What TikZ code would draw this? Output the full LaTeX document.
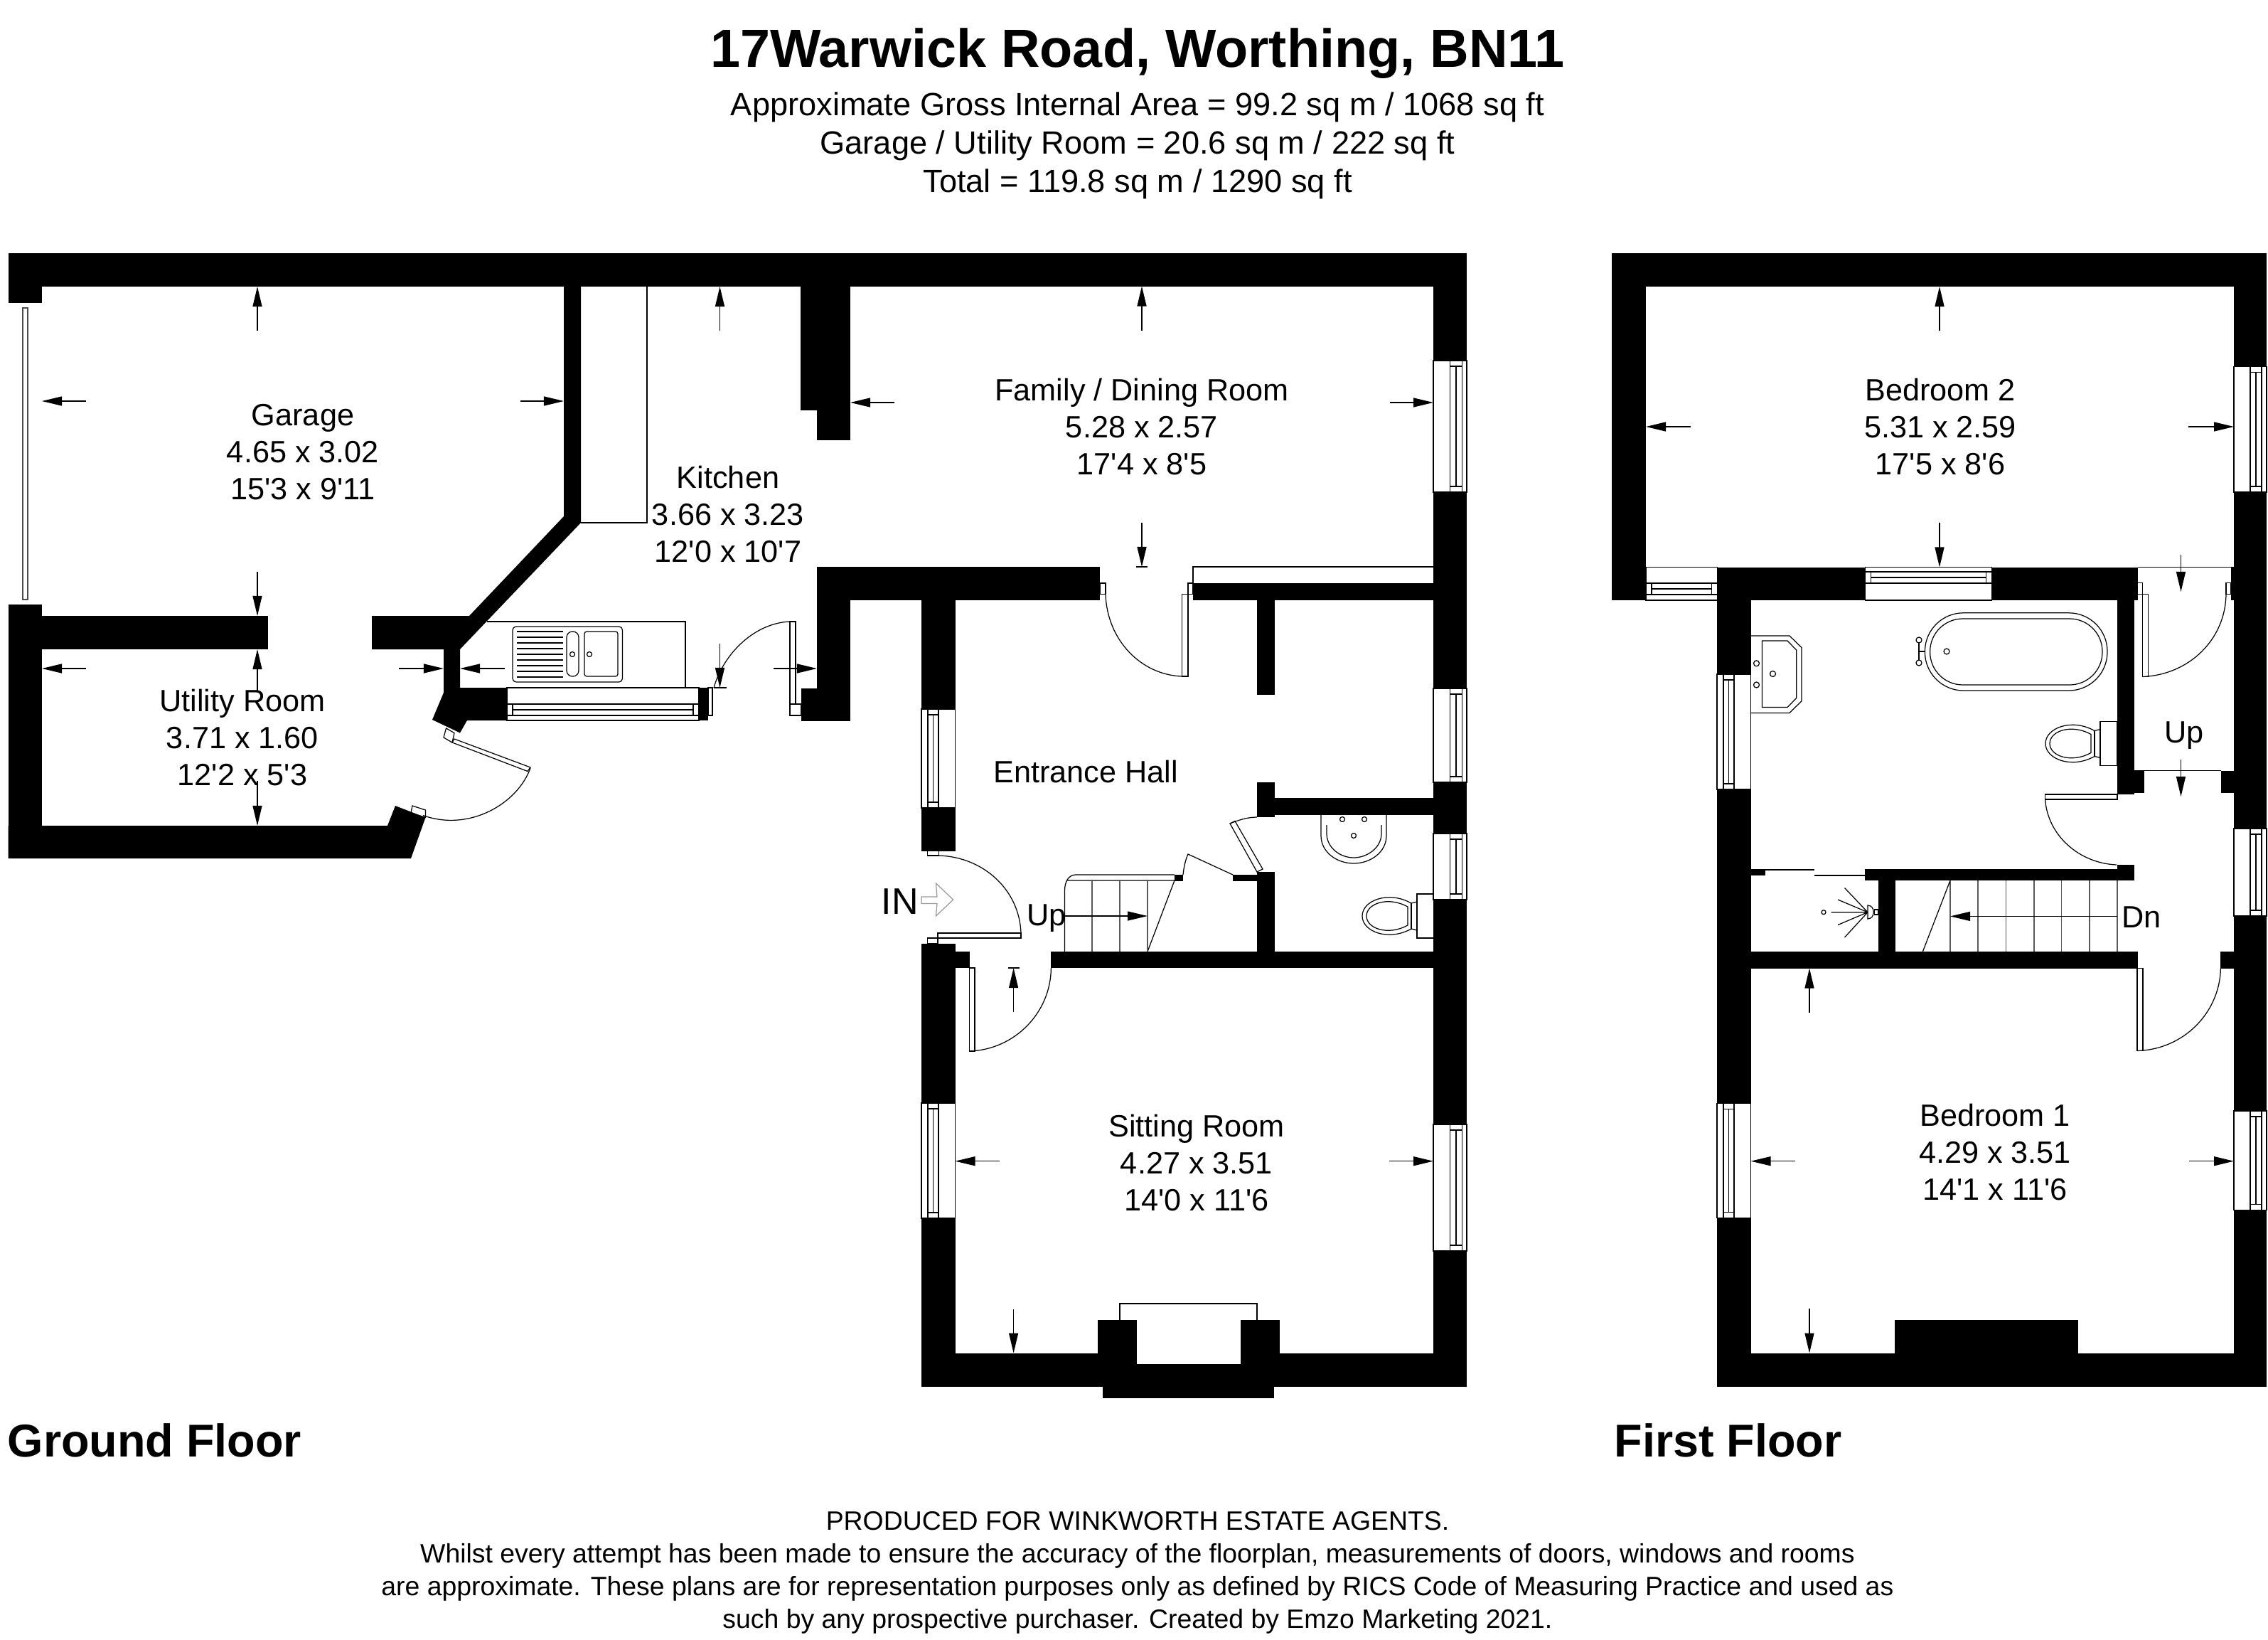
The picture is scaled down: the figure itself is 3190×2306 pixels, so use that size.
\documentclass[tikz,border=0pt]{standalone}
\usepackage{fontspec}
\setmainfont{Liberation Sans}
\newfontfamily\plainfont{Liberation Sans}
\usetikzlibrary{arrows.meta}
\newcommand{\vwin}[6]{%
  \path[winbox] (#1,#3) rectangle (#2,#4);
  \draw[fine] (#5,#3) rectangle (#6,#3+8) (#5,#4-8) rectangle (#6,#4);
  \draw[fine] (#5,#3+8) -- (#5,#4-8) ({(#5+#6)/2},#3+8) -- ({(#5+#6)/2},#4-8) (#6,#3+8) -- (#6,#4-8);
}
\newcommand{\hwin}[6]{%
  \path[winbox] (#1,#3) rectangle (#2,#4);
  \draw[fine] (#1,#5) rectangle (#1+8,#6) (#2-8,#5) rectangle (#2,#6);
  \draw[fine] (#1+8,#5) -- (#2-8,#5) (#1+8,{(#5+#6)/2}) -- (#2-8,{(#5+#6)/2}) (#1+8,#6) -- (#2-8,#6);
}
\newcommand{\wcpan}[2]{%
  \begin{scope}[shift={(#1,#2)}]
    \draw[fine] (0,-31) rectangle (23.5,31);
    \draw[fine] (0,-20) -- (-8,-18) .. controls (-40,-36) and (-77,-22) .. (-77,0) .. controls (-77,22) and (-40,36) .. (-8,18) -- (0,20);
    \draw[fine] (-8,-18) -- (-8,18);
    \draw[fine] (-13,-13) .. controls (-40,-28) and (-71,-18) .. (-71,0) .. controls (-71,18) and (-40,28) .. (-13,13) -- cycle;
  \end{scope}
}
\begin{document}
\begin{tikzpicture}[x=0.01cm,y=-0.01cm,
  wall/.style={fill=black,draw=none},
  fine/.style={draw=black,line width=0.35pt},
  winbox/.style={draw=black,fill=white,line width=0.35pt},
  greyline/.style={draw=black!65,line width=0.4pt},
  dim/.style={draw=black,line width=0.35pt,-{Stealth[length=0.28cm,width=0.13cm,inset=0pt]}},
  room/.style={font=\plainfont\fontsize{12.3}{14.8}\selectfont,align=center,inner sep=0pt},
  head/.style={font=\plainfont\fontsize{12.85}{15.3}\selectfont,align=center,inner sep=0pt},
  foot/.style={font=\plainfont\fontsize{10.63}{13.1}\selectfont,align=center,inner sep=0pt},
  floorname/.style={font=\plainfont\fontsize{18.4}{20}\selectfont\bfseries,inner sep=0pt,anchor=west}]
\useasboundingbox (0,0) rectangle (3190,2306);
\fill[white] (0,0) rectangle (3190,2306);

% ---------- GROUND FLOOR: walls ----------
\fill[wall] (11.5,356) rectangle (2063,403);
\fill[wall] (11.5,403) rectangle (59,426);
\fill[wall] (11.5,850) rectangle (59,1207);
\fill[wall] (11.5,866) rectangle (376.5,913);
\fill[wall] (793,403) -- (817,403) -- (817,735) -- (647,913) -- (647,967) -- (713,967) -- (713,1013) -- (657,1013) -- (647,1030.5) -- (608,1012) -- (624,974) -- (624,913) -- (523,913) -- (523,866) -- (660,866) -- (793,726) -- cycle;
\fill[wall] (11.5,1161) -- (545,1161) -- (556,1133) -- (598.5,1149.5) -- (578,1207) -- (11.5,1207) -- cycle;
\fill[wall] (983,967) rectangle (996,1013);
% chimney breast and family room wall
\fill[wall] (1126,403) rectangle (1196,577);
\fill[wall] (1149,577) rectangle (1196,619);
\fill[wall] (1149,797) rectangle (1547,844);
\fill[wall] (1149,844) rectangle (1196,968);
\fill[wall] (1127,968) rectangle (1196,1013.5);
\fill[wall] (1678,820) rectangle (2063,844);
% right wall
\fill[wall] (2016,403) rectangle (2063,1949.6);
% hall
\fill[wall] (1296,844) rectangle (1343.5,1196.5);
\fill[wall] (1768,844) rectangle (1792.5,976.5);
\fill[wall] (1768,1100) rectangle (1792.5,1149);
\fill[wall] (1792,1122) rectangle (2063,1145.5);
\fill[wall] (1768,1226) rectangle (1792.5,1338);
\fill[wall] (1734,1230) rectangle (1768,1239);
\fill[wall] (1652,1230) rectangle (1664,1239);
\fill[wall] (1296,1327) rectangle (1343.5,1338);
\fill[wall] (1296,1338) rectangle (1363.5,1361);
\fill[wall] (1296,1361) rectangle (1343.5,1949.6);
\fill[wall] (1478.4,1338) rectangle (2063,1361);
\fill[wall] (1296,1902.5) rectangle (2063,1949.6);
\fill[wall] (1551,1949.6) rectangle (1792,1965.7);
\fill[wall] (1544,1856) rectangle (1800,1902.5);
\fill[white] (1599,1856) rectangle (1745,1918);
\draw[fine] (1575,1856) -- (1575,1833) -- (1768,1833) -- (1768,1856);

% ---------- GROUND FLOOR: windows ----------
\path[winbox,draw=black!70] (32,433) rectangle (39,843);
\vwin{2016}{2063}{507}{692}{2039.5}{2056.5}
\vwin{2016}{2063}{968}{1100}{2039.5}{2056.5}
\vwin{2016}{2063}{1172}{1265}{2039.5}{2056.5}
\vwin{2016}{2063}{1581}{1759}{2039.5}{2056.5}
\vwin{1296}{1343.5}{997}{1136}{1305}{1320}
\vwin{1296}{1343.5}{1551}{1713}{1305}{1320}
\hwin{713}{983}{967}{1013}{990}{1006}

% ---------- GROUND FLOOR: fittings ----------
\draw[fine] (817,735) -- (910,735) -- (910,403);
\draw[fine] (1678,820) -- (1678,797) -- (2016,797);
% sink
\draw[fine] (685,874) -- (964,874) -- (964,967);
\draw[fine,rounded corners=1.4pt] (721,881) rectangle (875.5,959);
\foreach \yy in {888,896,904,912,920,928,936,944,952}{\draw[fine] (727,\yy) -- (792,\yy);}
\draw[fine,rounded corners=2.3pt] (797,888) rectangle (814,951);
\draw[fine,rounded corners=0.9pt] (822,888) rectangle (869,951);
\draw[fine] (805,920) circle (3.5) (829,920) circle (3.5);
% doors
\draw[fine] (996,967) rectangle (1002,1006);
\draw[fine] (1004,967) .. controls (1018,918) and (1062,876) .. (1111,874);
\draw[fine] (1111,874) rectangle (1119,990);
\draw[fine] (1111,990) rectangle (1127,1006);
\draw[fine] (1547,820) rectangle (1555,835.5);
\draw[fine] (1671,820) rectangle (1678,835.5);
\draw[fine] (1662.5,835.5) rectangle (1671,951);
\draw[fine] (1555,835.5) .. controls (1557,900) and (1605,949) .. (1662.5,951);
\draw[fine] (1304.5,1196.5) rectangle (1320.5,1203);
\draw[fine] (1320.5,1203) .. controls (1384,1205) and (1434,1252) .. (1436,1312);
\draw[fine] (1319,1312) rectangle (1436,1319);
\draw[fine] (1304.5,1319) rectangle (1319,1327);
\draw[fine] (1363.6,1361) rectangle (1371,1478);
\draw[fine] (1478.4,1361) .. controls (1478,1424) and (1427,1476) .. (1363.6,1478);
\draw[fine] (1768,1149) .. controls (1755,1149) and (1742,1153) .. (1730,1158);
\draw[fine] (1730,1158) -- (1737,1154.5) -- (1776,1222) -- (1768,1226) -- cycle;
\draw[fine] (1734,1230) -- (1671,1201) .. controls (1667,1210) and (1665,1220) .. (1664,1230);
\draw[fine] (627.5,1024) -- (639,1030.6) -- (636,1044) -- (624,1037) -- cycle;
\draw[fine] (639,1039) -- (746,1079) -- (742,1084.5) -- (636,1044) -- cycle;
\draw[fine] (746,1080) .. controls (728,1130) and (660,1170) .. (595,1146.5);
\draw[fine] (580,1133) -- (598.5,1139) -- (598.5,1149.5) -- (578,1143) -- cycle;
% stairs
\draw[fine] (1652,1230) -- (1513,1230) .. controls (1503,1230) and (1497.5,1240) .. (1497.5,1252) -- (1497.5,1338);
\draw[fine] (1500,1238) -- (1652,1238) -- (1614,1338);
\draw[greyline] (1536,1238) -- (1536,1338) (1575,1238) -- (1575,1338) (1614,1238) -- (1614,1338);
\draw[dim] (1497.5,1288) -- (1614,1288);
% wc
\draw[fine] (1858,1145) -- (1858,1175) .. controls (1858,1198) and (1880,1214) .. (1904,1214) .. controls (1928,1214) and (1950,1198) .. (1950,1175) -- (1950,1145);
\draw[fine] (1866,1160) -- (1866,1172) .. controls (1866,1192) and (1885,1206) .. (1904,1206) .. controls (1923,1206) and (1943,1192) .. (1943,1172) -- (1943,1160);
\draw[fine] (1888,1152) circle (3.5) (1919,1152) circle (3.5) (1904,1175) circle (3.5);
\wcpan{1993}{1288}
% entry arrow
\draw[draw=black!40,line width=0.35pt] (1296,1261) -- (1318,1261) -- (1316.5,1242) -- (1340.6,1265) -- (1316.5,1288) -- (1318,1270.5) -- (1296,1270.5) -- cycle;

% ---------- GROUND FLOOR: dimension arrows ----------
\draw[dim] (362,465) -- (362,403);
\draw[dim] (362,804) -- (362,866);
\draw[dim] (121,564) -- (59,564);
\draw[dim] (732,564) -- (793,564);
\draw[dim] (362,971) -- (362,913);
\draw[dim] (362,1098) -- (362,1161);
\draw[dim] (121,940) -- (59,940);
\draw[dim] (561,940) -- (624,940);
\draw[dim] (1012.5,465) -- (1012.5,403);
\draw[dim] (709.5,940) -- (647,940);
\draw[dim] (1088,940) -- (1149,940);
\draw[dim] (1012.5,905) -- (1012.5,967);
\draw[fine] (1004,967) -- (1022,967);
\draw[dim] (1606,465) -- (1606,402.5);
\draw[dim] (1258,566) -- (1196,566);
\draw[dim] (1954.6,566) -- (2016,566);
\draw[dim] (1606,735) -- (1606,797);
\draw[fine] (1598,797) -- (1614,797);
\draw[dim] (1425.6,1423) -- (1425.6,1361);
\draw[fine] (1418,1361) -- (1434,1361);
\draw[dim] (1405.5,1632.7) -- (1343.5,1632.7);
\draw[dim] (1954,1632.7) -- (2016,1632.7);
\draw[dim] (1425.6,1840.5) -- (1425.6,1902.5);

% ---------- FIRST FLOOR: walls ----------
\fill[wall] (2267,356) rectangle (3188,403);
\fill[wall] (2267,403) rectangle (2315,844);
\fill[wall] (3142,403) rectangle (3188,1949.5);
\fill[wall] (2415.6,797.5) rectangle (3006.5,844);
\fill[wall] (3138,797.5) rectangle (3188,844);
\fill[wall] (2415,844) rectangle (2462.5,1949.5);
\fill[wall] (2977.5,844) rectangle (3001.6,1117);
\fill[wall] (2977.5,1083.5) rectangle (3015.6,1115);
\fill[wall] (3123.7,1083.5) rectangle (3142,1115);
\fill[wall] (2623,1222) rectangle (3001.6,1238);
\fill[wall] (2977.5,1216) rectangle (3001.6,1238);
\fill[wall] (2462.5,1222) rectangle (2482.6,1231);
\fill[wall] (2641.5,1238) rectangle (2666,1338);
\fill[wall] (2415,1338) rectangle (3006.5,1361.5);
\fill[wall] (3123,1338) rectangle (3188,1361.5);
\fill[wall] (2415,1902.6) rectangle (3188,1949.5);
\fill[wall] (2664.8,1856) rectangle (2922.7,1902.6);

% ---------- FIRST FLOOR: windows ----------
\vwin{3142}{3188}{515.5}{692}{3165}{3181}
\vwin{3142}{3188}{1165}{1288}{3165}{3181}
\vwin{3142}{3188}{1562}{1701.5}{3165}{3181}
\vwin{2415}{2462.5}{948}{1110}{2424}{2439}
\vwin{2415}{2462.5}{1551.5}{1712.8}{2424}{2439}
\hwin{2315}{2415.6}{797.5}{844}{820}{836}
\hwin{2623.4}{2801.7}{797.5}{844}{804}{820}

% ---------- FIRST FLOOR: fittings ----------
\draw[fine] (3006.5,797.5) -- (3142,797.5);
\draw[fine] (3001.6,1083.5) -- (3123.7,1083.5);
\draw[fine] (3006.5,819.6) rectangle (3013.8,835.7);
\draw[fine] (3131,819.6) rectangle (3138,835.7);
\draw[fine] (3013.8,835.7) rectangle (3021.6,951.5);
\draw[fine] (3131,835.7) .. controls (3130,900) and (3078,949) .. (3013.8,951.5);
\draw[fine] (2876.6,1117) rectangle (2978,1124);
\draw[fine] (2876.6,1124) .. controls (2880,1175) and (2925,1214) .. (2977,1216);
\draw[fine] (3006,1361.7) rectangle (3014,1477.5);
\draw[fine] (3123.4,1361.7) .. controls (3122,1425) and (3070,1476) .. (3006,1477.5);
% sliding shower door
\draw[fine] (2482.6,1223) -- (2552,1223) (2552,1231) -- (2623,1231);
% stairs
\draw[greyline] (2782,1238) -- (2782,1338) (2821.5,1238) -- (2821.5,1338) (2861,1238) -- (2861,1338) (2899.5,1238) -- (2899.5,1338) (2939,1238) -- (2939,1338) (2978,1238) -- (2978,1338);
\draw[fine] (2743,1238) -- (2743,1338) (2743,1238) -- (2704.4,1338);
\draw[dim] (2978,1288.4) -- (2743,1288.4);
% shower
\draw[fine] (2627,1282.7) -- (2575.5,1282.7) (2627,1282.7) -- (2585,1265) (2627,1282.7) -- (2594.5,1248.5) (2627,1282.7) -- (2585,1300.5) (2627,1282.7) -- (2594.5,1318);
\draw[fine] (2565,1282.7) circle (3);
\draw[fine] (2627,1273) .. controls (2638,1273) and (2638,1292) .. (2627,1292) -- cycle;
\draw[fine] (2636.6,1279) rectangle (2641.5,1286);
% bath
\draw[fine,rounded corners=15.4pt] (2707.4,861.8) rectangle (2964,971);
\draw[fine,rounded corners=13.1pt] (2714.6,870) rectangle (2957,963);
\draw[fine] (2699,904) -- (2699,928) (2699,916) -- (2707.4,916);
\draw[fine] (2699,900) circle (4) (2699,932) circle (4) (2738,916) circle (4);
% basin
\draw[fine] (2462.7,894) -- (2517,894) -- (2534,910.6) -- (2534,985.7) -- (2517,1002.4) -- (2462.7,1002.4);
\draw[fine] (2478.4,901) -- (2514,901) -- (2526.7,914) -- (2526.7,981.6) -- (2514,994.4) -- (2478.4,994.4) -- cycle;
\draw[fine] (2470.5,932.8) circle (4) (2470.5,963) circle (4) (2493.5,947.5) circle (4);
\wcpan{2954}{1045.5}

% ---------- FIRST FLOOR: dimension arrows ----------
\draw[dim] (2728,465) -- (2728,403);
\draw[dim] (2377.5,600) -- (2315,600);
\draw[dim] (3078,600) -- (3142,600);
\draw[dim] (2728,734.5) -- (2728,797.5);
\draw[dim] (3067.5,780) -- (3067.5,832);
\draw[dim] (3067.5,1068) -- (3067.5,1120);
\draw[dim] (2545,1423.5) -- (2545,1361.5);
\draw[dim] (2525,1632.7) -- (2462.5,1632.7);
\draw[dim] (3079,1632.7) -- (3142,1632.7);
\draw[dim] (2545,1840) -- (2545,1902.6);

% ---------- TEXT ----------
\node[inner sep=0pt,font=\plainfont\fontsize{21.5}{24}\selectfont\bfseries] (title) at (1600,75) {17Warwick Road, Worthing, BN11};
\node[head] (areas) at (1600,205) {Approximate Gross Internal Area = 99.2 sq m / 1068 sq ft\\Garage / Utility Room = 20.6 sq m / 222 sq ft\\Total = 119.8 sq m / 1290 sq ft};
\node[room] (garage) at (426,636) {Garage\\4.65 x 3.02\\15'3 x 9'11};
\node[room] (kitchen) at (1024,723) {Kitchen\\3.66 x 3.23\\12'0 x 10'7};
\node[room] (utility) at (341,1037) {Utility Room\\3.71 x 1.60\\12'2 x 5'3};
\node[room] (family) at (1606,600) {Family / Dining Room\\5.28 x 2.57\\17'4 x 8'5};
\node[room] (hall) at (1527,1085) {Entrance Hall};
\node[room] (sitting) at (1683,1635) {Sitting Room\\4.27 x 3.51\\14'0 x 11'6};
\node[room] (bedtwo) at (2729,600) {Bedroom 2\\5.31 x 2.59\\17'5 x 8'6};
\node[room] (bedone) at (2806,1620) {Bedroom 1\\4.29 x 3.51\\14'1 x 11'6};
\node[room] (upg) at (1472,1291) {Up};
\node[room] (upf) at (3072,1034) {Up};
\node[room] (dn) at (3012,1290) {Dn};
\node[inner sep=0pt,font=\plainfont\fontsize{14.8}{16}\selectfont] (infront) at (1266,1268) {IN};
\node[floorname] (gf) at (10,2025) {Ground Floor};
\node[floorname] (ff) at (2270,2025) {First Floor};
\node[foot] (note) at (1600,2211) {PRODUCED FOR WINKWORTH ESTATE AGENTS.\\Whilst every attempt has been made to ensure the accuracy of the floorplan, measurements of doors, windows and rooms\\are approximate. These plans are for representation purposes only as defined by RICS Code of Measuring Practice and used as\\such by any prospective purchaser. Created by Emzo Marketing 2021.};
\end{tikzpicture}
\end{document}
